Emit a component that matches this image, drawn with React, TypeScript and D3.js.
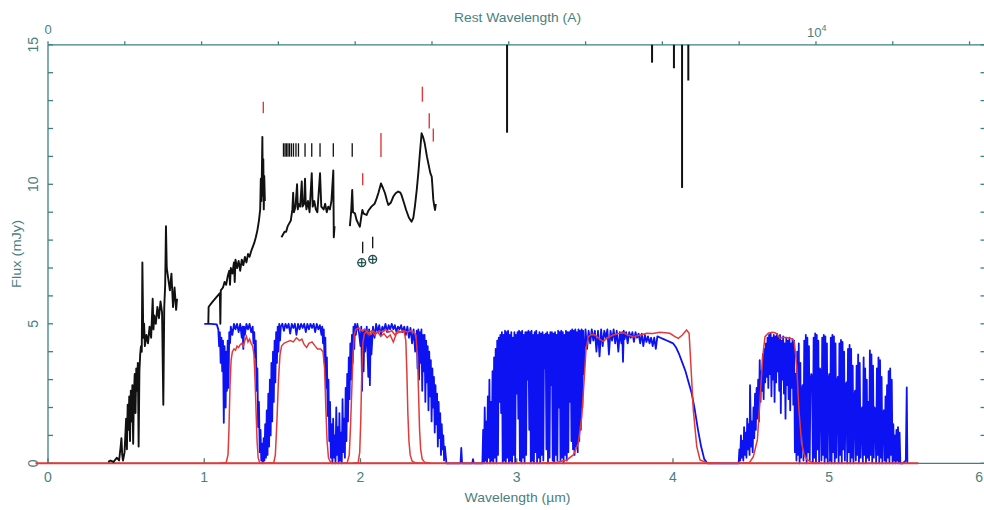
import React from "react";
import * as d3 from "d3";

type P = [number, number];

// ---------- axis / tick data ----------
const xTickValues = [0, 1, 2, 3, 4, 5, 6];
const yLabelValues = [0, 5, 10, 15];
const restLabelValues = [0, 10000];
const redshiftFactor = 4.915;

// ---------- observed spectrum (mJy vs micron) ----------
const specOptical: P[] = [
  [0.385, 0.05], [0.40, 0.1], [0.42, 0.05], [0.44, 0.2], [0.455, 0.1], [0.465, 0.6], [0.47, 0.9], [0.475, 0.3],
  [0.48, 0.1], [0.49, 0.4], [0.50, 1.6], [0.505, 0.5], [0.51, 2.1], [0.515, 1.2], [0.52, 2.4], [0.525, 0.8],
  [0.53, 2.6], [0.535, 1.5], [0.54, 2.8], [0.545, 0.7], [0.55, 2.5], [0.555, 3.2], [0.56, 1.8], [0.565, 3.4],
  [0.57, 2.6], [0.575, 3.6], [0.58, 0.6], [0.585, 3.3], [0.59, 3.9], [0.595, 4.2], [0.60, 4.0], [0.604, 7.2],
  [0.61, 4.5], [0.615, 5.0], [0.62, 4.2], [0.63, 4.6], [0.64, 4.3], [0.65, 4.9], [0.66, 4.5], [0.67, 5.9],
  [0.675, 4.8], [0.68, 5.3], [0.69, 5.0], [0.70, 5.6], [0.71, 5.2], [0.72, 5.8], [0.73, 5.4], [0.738, 2.1],
  [0.744, 5.6], [0.75, 6.4], [0.755, 8.5], [0.76, 7.0], [0.77, 6.6], [0.78, 6.2], [0.79, 6.8], [0.80, 5.6],
  [0.81, 6.3], [0.82, 5.5], [0.826, 5.9],
];
const specJ: P[] = [
  [1.026, 5.0], [1.028, 5.6], [1.04, 5.7], [1.055, 5.8], [1.07, 5.9], [1.085, 6.0], [1.10, 6.1], [1.103, 5.0],
  [1.106, 6.2], [1.12, 6.3], [1.13, 6.5], [1.14, 6.4], [1.15, 6.7], [1.16, 6.9], [1.165, 6.4], [1.17, 7.0],
  [1.18, 6.8], [1.19, 7.2], [1.195, 6.5], [1.20, 7.3], [1.21, 7.0], [1.22, 7.25], [1.23, 6.9], [1.24, 7.3],
  [1.25, 7.1], [1.26, 7.4], [1.27, 7.2], [1.28, 7.5], [1.29, 7.4], [1.30, 7.6], [1.31, 7.75], [1.32, 7.9],
  [1.33, 8.1], [1.34, 8.35], [1.35, 8.7], [1.358, 9.1], [1.362, 10.2], [1.366, 9.4], [1.372, 11.7], [1.375, 9.6],
  [1.378, 10.9], [1.381, 9.1], [1.384, 10.3], [1.388, 9.4],
];
const specH: P[] = [
  [1.494, 8.1], [1.504, 8.2], [1.514, 8.3], [1.524, 8.3], [1.534, 8.5], [1.544, 8.6], [1.554, 8.7], [1.559, 8.9],
  [1.564, 9.1], [1.569, 9.7], [1.574, 9.0], [1.584, 9.2], [1.594, 10.0], [1.599, 9.1], [1.604, 9.3], [1.614, 9.2],
  [1.624, 10.1], [1.629, 9.2], [1.639, 9.3], [1.645, 10.2], [1.649, 9.4], [1.654, 9.1], [1.664, 9.4], [1.674, 9.0],
  [1.688, 10.4], [1.694, 9.2], [1.704, 9.4], [1.714, 9.1], [1.724, 9.0], [1.741, 10.4], [1.749, 9.2], [1.764, 9.1],
  [1.774, 9.3], [1.784, 9.0], [1.794, 9.2], [1.804, 9.1], [1.814, 9.4], [1.826, 10.5], [1.829, 8.1], [1.834, 8.5],
];
const specK: P[] = [
  [1.932, 8.5], [1.94, 9.0], [1.947, 9.8], [1.952, 9.0], [1.964, 8.96], [1.975, 8.72], [1.985, 8.6], [1.996, 8.48],
  [2.004, 8.8], [2.012, 9.08], [2.02, 8.95], [2.039, 8.9], [2.05, 9.05], [2.07, 9.2], [2.09, 9.3], [2.10, 9.44],
  [2.115, 9.7], [2.131, 10.03], [2.145, 9.85], [2.157, 9.68], [2.17, 9.4], [2.178, 9.26], [2.195, 9.35], [2.21, 9.56],
  [2.225, 9.68], [2.241, 9.74], [2.255, 9.7], [2.262, 9.62], [2.28, 9.3], [2.292, 9.08], [2.31, 8.8], [2.327, 8.66],
  [2.338, 8.8], [2.348, 9.2], [2.36, 9.8], [2.37, 10.4], [2.38, 11.1], [2.391, 11.83], [2.40, 11.7], [2.411, 11.47],
  [2.425, 11.0], [2.434, 10.75], [2.447, 10.4], [2.456, 10.27], [2.462, 9.8], [2.466, 9.44], [2.473, 9.2],
  [2.477, 9.08], [2.482, 9.3],
];
// absorption spikes hanging from the top frame: [x, lowest flux]
const topSpikes: P[] = [[2.938, 11.85], [3.866, 14.36], [4.006, 14.16], [4.058, 9.87], [4.098, 13.72]];

// ---------- line identification marks ----------
const redMarks: [number, number, number][] = [
  [1.378, 12.55, 12.96], [2.014, 9.97, 10.4], [2.131, 10.98, 11.84], [2.396, 12.96, 13.5], [2.44, 12.0, 12.55], [2.466, 11.53, 12.0],
];
const blackMarkX = [1.507, 1.517, 1.526, 1.536, 1.546, 1.558, 1.571, 1.587, 1.603, 1.645, 1.688, 1.741, 1.826, 1.947];
const blackMarkRange: P = [10.99, 11.47];
const telluricMarks: [number, number, number][] = [[2.014, 7.53, 7.94], [2.078, 7.71, 8.12]];
const earthSymbols: P[] = [[2.008, 7.19], [2.078, 7.31]];

// ---------- atmospheric transmission (scaled, 5 = 100%) ----------
const atmosJH: P[] = [
  [1.0, 5.0], [1.04, 5.0], [1.08, 4.98], [1.09, 4.8], [1.095, 4.2], [1.10, 4.7], [1.105, 3.6], [1.11, 4.5],
  [1.115, 3.3], [1.12, 4.4], [1.125, 1.45], [1.13, 4.2], [1.137, 2.0], [1.14, 4.0], [1.145, 2.6], [1.15, 4.4],
  [1.155, 2.7], [1.16, 4.7], [1.165, 4.3], [1.17, 4.9], [1.18, 4.6], [1.19, 5.0], [1.20, 4.8], [1.21, 5.0],
  [1.22, 4.7], [1.23, 5.0], [1.24, 4.5], [1.245, 4.9], [1.25, 4.1], [1.255, 4.9], [1.26, 4.6], [1.27, 5.0],
  [1.28, 4.8], [1.29, 5.0], [1.30, 4.7], [1.31, 4.9], [1.315, 4.3], [1.32, 4.7], [1.325, 3.8], [1.33, 4.4],
  [1.335, 2.6], [1.34, 3.4], [1.345, 1.3], [1.35, 2.2], [1.355, 0.4], [1.36, 1.2], [1.365, 0.1], [1.37, 0.7],
  [1.375, 0.0], [1.38, 0.9], [1.385, 0.1], [1.39, 1.4], [1.395, 0.2], [1.40, 1.9], [1.405, 0.3], [1.41, 2.5],
  [1.415, 0.6], [1.42, 3.0], [1.425, 1.0], [1.43, 3.6], [1.435, 1.5], [1.44, 4.0], [1.445, 2.2], [1.45, 4.4],
  [1.455, 2.9], [1.46, 4.7], [1.465, 3.6], [1.47, 4.9], [1.475, 4.0], [1.48, 5.0], [1.485, 4.4], [1.49, 4.9],
  [1.50, 5.0], [1.51, 4.75], [1.52, 5.0], [1.53, 4.85], [1.54, 5.0], [1.55, 4.65], [1.56, 5.0], [1.57, 4.85],
  [1.58, 5.0], [1.59, 4.6], [1.60, 5.0], [1.61, 4.8], [1.62, 5.0], [1.63, 4.85], [1.64, 5.0], [1.65, 4.7],
  [1.66, 5.0], [1.67, 4.8], [1.68, 5.0], [1.69, 4.85], [1.70, 5.0], [1.71, 4.7], [1.72, 5.0], [1.73, 4.8],
  [1.74, 4.95], [1.75, 4.6], [1.755, 4.9], [1.76, 4.3], [1.765, 4.8], [1.77, 3.6], [1.775, 4.5], [1.78, 2.7],
  [1.785, 3.8], [1.79, 1.7], [1.795, 3.0], [1.80, 0.8], [1.805, 2.2], [1.81, 0.2], [1.815, 1.4], [1.82, 0.0],
  [1.825, 1.6], [1.83, 0.2], [1.835, 1.0], [1.84, 0.0], [1.845, 2.0], [1.85, 0.3], [1.855, 1.3], [1.86, 0.0],
  [1.865, 1.8], [1.87, 0.1], [1.875, 1.1], [1.88, 0.0], [1.885, 2.3], [1.89, 0.4], [1.895, 1.6], [1.90, 0.2],
  [1.905, 2.7], [1.91, 0.8], [1.915, 3.2], [1.92, 1.5], [1.925, 3.8], [1.93, 2.3], [1.935, 4.3], [1.94, 3.0],
  [1.945, 4.6], [1.95, 3.6], [1.955, 4.9], [1.96, 4.1], [1.965, 5.0], [1.97, 4.6], [1.98, 5.0], [1.99, 4.7],
];
const atmosK: P[] = [
  [2.0, 4.2], [2.005, 4.9], [2.01, 2.6], [2.015, 4.7], [2.02, 3.3], [2.025, 4.8], [2.03, 4.0], [2.04, 4.9],
  [2.05, 3.1], [2.055, 4.8], [2.06, 2.8], [2.065, 4.6], [2.07, 3.9], [2.08, 4.9], [2.09, 4.5], [2.10, 5.0],
  [2.11, 4.7], [2.12, 4.95], [2.13, 4.6], [2.14, 4.9], [2.15, 4.75], [2.16, 5.0], [2.17, 4.7], [2.18, 4.95],
  [2.19, 4.8], [2.20, 5.0], [2.21, 4.8], [2.22, 4.95], [2.23, 4.7], [2.24, 4.9], [2.25, 4.8], [2.26, 4.95],
  [2.27, 4.7], [2.28, 4.9], [2.29, 4.6], [2.30, 4.9], [2.31, 4.5], [2.32, 4.85], [2.33, 4.3], [2.34, 4.8],
  [2.35, 4.0], [2.36, 4.75], [2.365, 3.4], [2.37, 4.8], [2.375, 3.0], [2.38, 4.7], [2.385, 3.6], [2.39, 4.8],
  [2.395, 2.6], [2.40, 4.6], [2.405, 3.3], [2.41, 4.6], [2.415, 2.2], [2.42, 4.4], [2.425, 2.9], [2.43, 4.2],
  [2.435, 1.9], [2.44, 4.0], [2.445, 2.4], [2.45, 3.7], [2.455, 1.5], [2.46, 3.4], [2.465, 2.0], [2.47, 3.1],
  [2.475, 1.1], [2.48, 2.8], [2.485, 1.4], [2.49, 2.5], [2.495, 0.6], [2.50, 2.2], [2.505, 0.9], [2.51, 1.8],
  [2.515, 0.3], [2.52, 1.4], [2.525, 0.5], [2.53, 1.0], [2.535, 0.1], [2.54, 0.6], [2.55, 0.0], [2.64, 0.0],
  [2.645, 0.55], [2.65, 0.0], [2.715, 0.0], [2.72, 0.15], [2.725, 0.0], [2.775, 0.0],
];
const atmosL: P[] = [
  [2.78, 0.0], [2.785, 1.2], [2.79, 0.0], [2.795, 2.0], [2.80, 0.1], [2.805, 1.5], [2.81, 0.0], [2.815, 2.4],
  [2.82, 0.2], [2.825, 3.0], [2.83, 0.0], [2.835, 2.2], [2.84, 0.1], [2.845, 3.3], [2.85, 0.0], [2.855, 3.8],
  [2.86, 0.2], [2.865, 4.1], [2.87, 0.0], [2.875, 4.4], [2.88, 0.3], [2.885, 4.5], [2.89, 2.2], [2.895, 4.6],
  [2.90, 1.8], [2.905, 4.7], [2.91, 0.0], [2.915, 4.6], [2.92, 0.1], [2.925, 4.75], [2.93, 0.0], [2.935, 4.7],
  [2.94, 0.2], [2.945, 4.75], [2.95, 0.0], [2.955, 4.6], [2.96, 0.1], [2.965, 4.7], [2.97, 0.0], [2.975, 4.5],
  [2.98, 0.3], [2.985, 4.7], [2.99, 0.0], [2.995, 4.6], [3.0, 2.5], [3.005, 4.7], [3.01, 1.6], [3.015, 4.75],
  [3.02, 0.1], [3.025, 4.7], [3.03, 0.0], [3.035, 4.75], [3.04, 0.2], [3.045, 4.6], [3.05, 0.0], [3.055, 4.7],
  [3.06, 0.3], [3.065, 4.7], [3.07, 3.0], [3.075, 4.75], [3.08, 1.2], [3.085, 4.7], [3.09, 0.0], [3.095, 4.75],
  [3.10, 0.1], [3.105, 4.6], [3.11, 0.0], [3.115, 4.7], [3.12, 0.4], [3.125, 4.75], [3.13, 0.0], [3.135, 4.6],
  [3.14, 0.2], [3.145, 4.7], [3.15, 0.0], [3.155, 4.65], [3.16, 0.3], [3.165, 4.7], [3.17, 0.1], [3.175, 4.6],
  [3.18, 3.4], [3.185, 4.65], [3.19, 0.5], [3.195, 4.7], [3.20, 0.0], [3.205, 4.6], [3.21, 0.2], [3.215, 4.7],
  [3.22, 2.8], [3.225, 4.7], [3.23, 0.1], [3.235, 4.65], [3.24, 0.0], [3.245, 4.7], [3.25, 0.3], [3.255, 4.6],
  [3.26, 0.1], [3.265, 4.75], [3.27, 2.0], [3.275, 4.7], [3.28, 0.1], [3.285, 4.75], [3.29, 0.2], [3.295, 4.7],
  [3.30, 0.0], [3.305, 4.6], [3.31, 0.3], [3.315, 4.75], [3.32, 0.1], [3.325, 4.7], [3.33, 0.4], [3.335, 4.7],
  [3.34, 2.2], [3.345, 4.75], [3.35, 0.8], [3.355, 4.8], [3.36, 0.5], [3.365, 4.75], [3.37, 0.3], [3.375, 4.8],
  [3.38, 0.6], [3.385, 4.7], [3.39, 0.4], [3.395, 4.8], [3.40, 0.8], [3.405, 4.75], [3.41, 1.2], [3.415, 4.8],
  [3.42, 2.0], [3.425, 4.75], [3.43, 3.2], [3.44, 4.8], [3.45, 4.1], [3.46, 4.75], [3.47, 4.3], [3.48, 4.8],
  [3.49, 4.4], [3.50, 4.75], [3.51, 4.0], [3.52, 4.75], [3.53, 3.83], [3.54, 4.8], [3.55, 4.2], [3.56, 4.75],
  [3.57, 4.5], [3.58, 4.8], [3.59, 3.9], [3.60, 4.75], [3.61, 4.4], [3.62, 4.8], [3.63, 4.3], [3.64, 4.75],
  [3.65, 4.0], [3.66, 4.7], [3.67, 4.3], [3.675, 4.7], [3.68, 3.64], [3.685, 4.75], [3.69, 4.45], [3.70, 4.7],
  [3.71, 4.3], [3.72, 4.7], [3.73, 4.5], [3.74, 4.7], [3.75, 4.35], [3.76, 4.7], [3.77, 4.5], [3.78, 4.65],
  [3.79, 4.3], [3.80, 4.65], [3.81, 4.2], [3.82, 4.6], [3.83, 4.35], [3.84, 4.55], [3.85, 4.3], [3.86, 4.5],
  [3.87, 4.2], [3.88, 4.5], [3.89, 4.1], [3.90, 4.55], [3.92, 4.5], [3.94, 4.45], [3.96, 4.4], [3.98, 4.35],
  [4.00, 4.3], [4.02, 4.15], [4.04, 3.9], [4.06, 3.6], [4.08, 3.3], [4.10, 2.9], [4.12, 2.5], [4.14, 1.9],
  [4.16, 1.2], [4.18, 0.6], [4.20, 0.15], [4.22, 0.0], [4.415, 0.0],
];
const atmosM: P[] = [
  [4.42, 0.0], [4.425, 0.5], [4.43, 0.1], [4.435, 1.0], [4.44, 0.2], [4.445, 0.8], [4.45, 0.1], [4.455, 1.3],
  [4.46, 0.3], [4.465, 1.1], [4.47, 0.2], [4.475, 1.6], [4.48, 0.5], [4.485, 1.4], [4.49, 0.3], [4.493, 2.8],
  [4.50, 0.6], [4.505, 1.5], [4.51, 0.4], [4.515, 2.0], [4.52, 0.9], [4.525, 2.5], [4.53, 1.2], [4.535, 2.7],
  [4.54, 1.6], [4.545, 3.0], [4.55, 1.5], [4.555, 3.7], [4.56, 2.2], [4.565, 3.3], [4.57, 2.6], [4.575, 3.9],
  [4.58, 2.3], [4.585, 4.1], [4.59, 2.9], [4.595, 4.3], [4.60, 3.1], [4.605, 4.5], [4.61, 2.7], [4.615, 4.6],
  [4.62, 3.2], [4.625, 4.65], [4.63, 2.4], [4.635, 4.5], [4.64, 3.0], [4.645, 4.6], [4.65, 2.2], [4.655, 4.55],
  [4.66, 2.9], [4.665, 4.65], [4.67, 3.3], [4.675, 4.5], [4.68, 2.6], [4.685, 4.6], [4.69, 1.8], [4.695, 4.4],
  [4.70, 3.0], [4.705, 4.55], [4.71, 2.5], [4.715, 4.3], [4.72, 1.6], [4.725, 4.5], [4.73, 2.8], [4.735, 4.4],
  [4.74, 2.3], [4.745, 4.5], [4.75, 1.9], [4.755, 4.3], [4.76, 2.7], [4.765, 4.45], [4.77, 2.1], [4.775, 4.4],
  [4.78, 0.4], [4.785, 3.2], [4.79, 0.1], [4.795, 4.0], [4.80, 0.3], [4.805, 4.3], [4.81, 0.0], [4.815, 3.6],
  [4.82, 0.2], [4.825, 2.6], [4.83, 2.8], [4.835, 0.1], [4.84, 4.4], [4.845, 0.3], [4.85, 4.6], [4.855, 0.0],
  [4.86, 4.5], [4.865, 0.4], [4.87, 4.2], [4.875, 0.1], [4.88, 3.0], [4.885, 3.2], [4.89, 3.1], [4.895, 0.0],
  [4.90, 4.5], [4.905, 0.2], [4.91, 4.66], [4.915, 0.0], [4.92, 4.6], [4.925, 0.5], [4.93, 4.4], [4.935, 0.0],
  [4.94, 3.4], [4.945, 3.3], [4.95, 0.1], [4.955, 4.5], [4.96, 0.3], [4.965, 4.6], [4.97, 0.0], [4.975, 4.55],
  [4.98, 0.2], [4.985, 4.3], [4.99, 0.0], [4.995, 3.0], [5.00, 3.2], [5.005, 0.1], [5.01, 4.5], [5.015, 0.0],
  [5.02, 4.6], [5.025, 0.4], [5.03, 4.55], [5.035, 0.0], [5.04, 4.3], [5.045, 0.2], [5.05, 2.9], [5.055, 3.1],
  [5.06, 0.0], [5.065, 4.3], [5.07, 0.3], [5.075, 4.42], [5.08, 0.0], [5.085, 4.35], [5.09, 0.5], [5.095, 4.0],
  [5.10, 0.1], [5.105, 2.8], [5.11, 2.9], [5.115, 0.0], [5.12, 4.1], [5.125, 0.4], [5.13, 4.24], [5.135, 0.0],
  [5.14, 4.1], [5.145, 0.2], [5.15, 3.5], [5.155, 0.0], [5.16, 2.4], [5.165, 2.6], [5.17, 0.1], [5.175, 3.5],
  [5.18, 0.3], [5.185, 3.9], [5.19, 0.0], [5.195, 3.6], [5.20, 0.2], [5.205, 1.8], [5.21, 2.0], [5.215, 0.0],
  [5.22, 3.8], [5.225, 0.3], [5.23, 3.4], [5.235, 0.0], [5.24, 3.0], [5.245, 0.2], [5.25, 2.2], [5.255, 0.1],
  [5.26, 4.05], [5.265, 0.3], [5.27, 3.9], [5.275, 0.0], [5.28, 3.5], [5.285, 0.2], [5.29, 2.0], [5.295, 1.9],
  [5.30, 0.0], [5.305, 3.4], [5.31, 0.3], [5.315, 3.8], [5.32, 0.0], [5.325, 3.7], [5.33, 0.2], [5.335, 3.1],
  [5.34, 0.0], [5.345, 1.8], [5.35, 1.9], [5.355, 0.1], [5.36, 2.4], [5.365, 0.0], [5.37, 2.8], [5.375, 0.2],
  [5.38, 3.3], [5.385, 0.0], [5.39, 3.4], [5.395, 0.3], [5.40, 3.0], [5.405, 0.0], [5.41, 1.4], [5.415, 0.1],
  [5.42, 1.0], [5.425, 0.0], [5.43, 1.2], [5.435, 0.1], [5.44, 1.3], [5.445, 0.0], [5.45, 1.1], [5.455, 0.0],
  [5.47, 0.0], [5.49, 0.1], [5.496, 2.72], [5.50, 0.0],
];

// ---------- filter transmission curves (scaled) ----------
const filterZ: P[] = [
  [1.10, 0], [1.14, 0.02], [1.152, 0.3], [1.158, 1.2], [1.165, 2.8], [1.172, 3.7], [1.18, 4.0], [1.19, 4.1],
  [1.20, 4.05], [1.21, 4.2], [1.22, 4.15], [1.23, 4.25], [1.24, 4.3], [1.25, 4.2], [1.26, 4.4], [1.27, 4.55],
  [1.28, 4.35], [1.29, 4.45], [1.30, 4.3], [1.31, 4.2], [1.318, 3.9], [1.325, 3.0], [1.332, 1.8], [1.338, 0.8],
  [1.345, 0.2], [1.355, 0.02], [1.40, 0],
];
const filterJ: P[] = [
  [1.40, 0], [1.445, 0.02], [1.455, 0.3], [1.465, 1.5], [1.475, 3.0], [1.485, 3.9], [1.495, 4.2], [1.51, 4.3],
  [1.53, 4.35], [1.55, 4.4], [1.57, 4.35], [1.59, 4.5], [1.61, 4.4], [1.625, 4.45], [1.64, 4.25], [1.655, 4.15],
  [1.67, 4.3], [1.69, 4.35], [1.71, 4.2], [1.725, 4.1], [1.745, 4.1], [1.76, 4.0], [1.77, 3.4], [1.778, 2.0],
  [1.786, 0.8], [1.795, 0.2], [1.81, 0.02], [1.85, 0],
];
const filterKs: P[] = [
  [1.88, 0], [1.915, 0.02], [1.928, 0.3], [1.936, 1.3], [1.944, 2.6], [1.952, 3.9], [1.96, 4.6], [1.97, 4.8],
  [1.99, 4.85], [2.01, 4.75], [2.03, 4.8], [2.05, 4.65], [2.07, 4.75], [2.09, 4.6], [2.11, 4.7], [2.13, 4.55],
  [2.15, 4.65], [2.17, 4.5], [2.19, 4.6], [2.21, 4.35], [2.23, 4.65], [2.25, 4.7], [2.27, 4.75], [2.28, 4.7],
  [2.29, 4.4], [2.297, 3.2], [2.303, 1.8], [2.31, 0.8], [2.318, 0.3], [2.33, 0.08], [2.35, 0.02], [2.40, 0],
];
const filterK: P[] = [
  [1.95, 0], [1.985, 0.02], [1.995, 0.4], [2.002, 1.6], [2.008, 3.2], [2.015, 4.3], [2.025, 4.65], [2.04, 4.7],
  [2.06, 4.6], [2.08, 4.75], [2.10, 4.65], [2.12, 4.75], [2.14, 4.7], [2.16, 4.8], [2.18, 4.7], [2.20, 4.75],
  [2.22, 4.6], [2.24, 4.75], [2.26, 4.7], [2.28, 4.75], [2.30, 4.7], [2.32, 4.75], [2.34, 4.7], [2.355, 4.6],
  [2.365, 3.8], [2.372, 2.4], [2.378, 1.2], [2.385, 0.5], [2.395, 0.15], [2.41, 0.04], [2.45, 0],
];
const filterL: P[] = [
  [3.15, 0], [3.256, 0.04], [3.32, 0.12], [3.362, 0.3], [3.394, 0.72], [3.416, 1.67], [3.43, 2.87], [3.443, 4.06],
  [3.458, 4.54], [3.48, 4.62], [3.50, 4.6], [3.53, 4.45], [3.554, 4.36], [3.58, 4.5], [3.618, 4.6], [3.65, 4.65],
  [3.682, 4.68], [3.71, 4.6], [3.746, 4.54], [3.79, 4.6], [3.832, 4.66], [3.87, 4.65], [3.917, 4.7], [3.95, 4.68],
  [3.98, 4.66], [4.01, 4.55], [4.034, 4.48], [4.06, 4.6], [4.087, 4.78], [4.103, 4.66], [4.115, 3.46], [4.13, 1.91],
  [4.152, 0.6], [4.173, 0.12], [4.216, 0.02], [4.30, 0],
];
const filterM: P[] = [
  [4.40, 0], [4.49, 0.03], [4.514, 0.24], [4.54, 0.84], [4.557, 2.27], [4.574, 3.82], [4.589, 4.54], [4.61, 4.66],
  [4.635, 4.7], [4.653, 4.68], [4.67, 4.6], [4.685, 4.48], [4.71, 4.52], [4.73, 4.5], [4.749, 4.48], [4.765, 4.45],
  [4.776, 4.36], [4.792, 3.46], [4.806, 1.91], [4.823, 0.72], [4.84, 0.3], [4.856, 0.14], [4.89, 0.03], [4.95, 0],
];
const filterBaseline: P[] = [[-0.08, 0], [5.57, 0]];

// ---------- rendering ----------
const W = 984;
const H = 510;
const AXIS = "#3b8180";
const TEXT = "#4a7f7e";
const RED = "#e23a3a";
const BLUE = "#0c12f2";
const BLACK = "#111";
const FONT = "'Liberation Sans', Arial, sans-serif";

export default function App() {
  const x = d3.scaleLinear().domain([0, 6]).range([48, 985.5]);
  const y = d3.scaleLinear().domain([0, 15]).range([463.3, 44.8]);
  const rest = d3.scaleLinear().domain([0, (6 / redshiftFactor) * 1e4]).range([48, 985.5]);
  const line = d3.line<P>().x((d) => x(d[0])).y((d) => y(d[1]));

  const [x0, x1] = x.range();
  const [yb, yt] = y.range();
  const yTicks = y.ticks(15);
  const restTicks = rest.ticks(12);
  const atmos = [...atmosJH, ...atmosK, ...atmosL, ...atmosM];
  const filters = [filterZ, filterJ, filterKs, filterK, filterL, filterM];
  const spectra = [specOptical, specJ, specH, specK];

  return (
    <svg
      width={W}
      height={H}
      viewBox={`0 0 ${W} ${H}`}
      style={{ position: "absolute", left: 0, top: 0, background: "#fff" }}
      fontFamily={FONT}
    >
      {/* frame */}
      <g stroke={AXIS} strokeWidth={1.3} fill="none">
        <line x1={x0} y1={yt} x2={x1} y2={yt} />
        <line x1={x0} y1={yb} x2={x1} y2={yb} />
        <line x1={x0} y1={yt} x2={x0} y2={yb} />
        <line x1={x1} y1={yt} x2={x1} y2={yb} />
        {yTicks.map((v) => (
          <g key={`yt${v}`}>
            <line x1={x0} y1={y(v)} x2={x0 + 5} y2={y(v)} />
            <line x1={x1 - 5} y1={y(v)} x2={x1} y2={y(v)} />
          </g>
        ))}
        {xTickValues.map((v) => (
          <line key={`xt${v}`} x1={x(v)} y1={yb} x2={x(v)} y2={yb - 5} />
        ))}
        {restTicks.map((v) => (
          <line key={`rt${v}`} x1={rest(v)} y1={yt} x2={rest(v)} y2={yt - 3.5} />
        ))}
      </g>

      {/* tick labels */}
      <g fill={TEXT} fontSize={14}>
        {xTickValues.map((v) => (
          <text
            key={`xl${v}`}
            x={v === 6 ? W - 1 : x(v)}
            y={482}
            textAnchor={v === 6 ? "end" : "middle"}
          >
            {v}
          </text>
        ))}
        {yLabelValues.map((v) => (
          <text key={`yl${v}`} transform={`translate(38,${y(v)}) rotate(-90)`} textAnchor="middle">
            {v}
          </text>
        ))}
        {restLabelValues.map((v) =>
          v === 0 ? (
            <text key="r0" x={rest(v)} y={34} textAnchor="middle" fontSize={13}>
              0
            </text>
          ) : (
            <text key="r1" x={rest(v) - 9} y={36.5} fontSize={13}>
              10
              <tspan dy={-6} fontSize={9}>
                4
              </tspan>
            </text>
          )
        )}
      </g>

      {/* axis titles */}
      <g fill={TEXT}>
        <text x={517.5} y={22} textAnchor="middle" fontSize={13} textLength={127} lengthAdjust="spacingAndGlyphs">
          Rest Wavelength (A)
        </text>
        <text x={517.5} y={502} textAnchor="middle" fontSize={13} textLength={106} lengthAdjust="spacingAndGlyphs">
          Wavelength (µm)
        </text>
        <text
          transform="translate(21,254) rotate(-90)"
          textAnchor="middle"
          fontSize={13}
          textLength={68}
          lengthAdjust="spacingAndGlyphs"
        >
          Flux (mJy)
        </text>
      </g>

      {/* atmospheric transmission */}
      <path d={line(atmos) ?? ""} fill="none" stroke={BLUE} strokeWidth={1.8} strokeLinejoin="round" />

      {/* filter curves */}
      <g fill="none" stroke={RED} strokeWidth={1.5}>
        <path d={line(filterBaseline) ?? ""} strokeWidth={2} />
        {filters.map((f, i) => (
          <path key={`f${i}`} d={line(f) ?? ""} />
        ))}
      </g>

      {/* spectrum */}
      <g fill="none" stroke={BLACK} strokeWidth={1.9} strokeLinejoin="round">
        {spectra.map((s, i) => (
          <path key={`s${i}`} d={line(s) ?? ""} />
        ))}
        {topSpikes.map(([sx, sy], i) => (
          <line key={`ts${i}`} x1={x(sx)} y1={y(15)} x2={x(sx)} y2={y(sy)} strokeWidth={2} />
        ))}
      </g>

      {/* line identifications */}
      <g stroke={RED} strokeWidth={1.4}>
        {redMarks.map(([mx, a, b], i) => (
          <line key={`rm${i}`} x1={x(mx)} y1={y(a)} x2={x(mx)} y2={y(b)} />
        ))}
      </g>
      <g stroke={BLACK} strokeWidth={1.3}>
        {blackMarkX.map((mx, i) => (
          <line key={`bm${i}`} x1={x(mx)} y1={y(blackMarkRange[0])} x2={x(mx)} y2={y(blackMarkRange[1])} />
        ))}
        {telluricMarks.map(([mx, a, b], i) => (
          <line key={`tm${i}`} x1={x(mx)} y1={y(a)} x2={x(mx)} y2={y(b)} />
        ))}
      </g>
      <g stroke="#1f4f4d" strokeWidth={1.2} fill="none">
        {earthSymbols.map(([ex, ey], i) => (
          <g key={`es${i}`} transform={`translate(${x(ex)},${y(ey)})`}>
            <circle r={4} />
            <line x1={-4} y1={0} x2={4} y2={0} />
            <line x1={0} y1={-4} x2={0} y2={4} />
          </g>
        ))}
      </g>
    </svg>
  );
}
